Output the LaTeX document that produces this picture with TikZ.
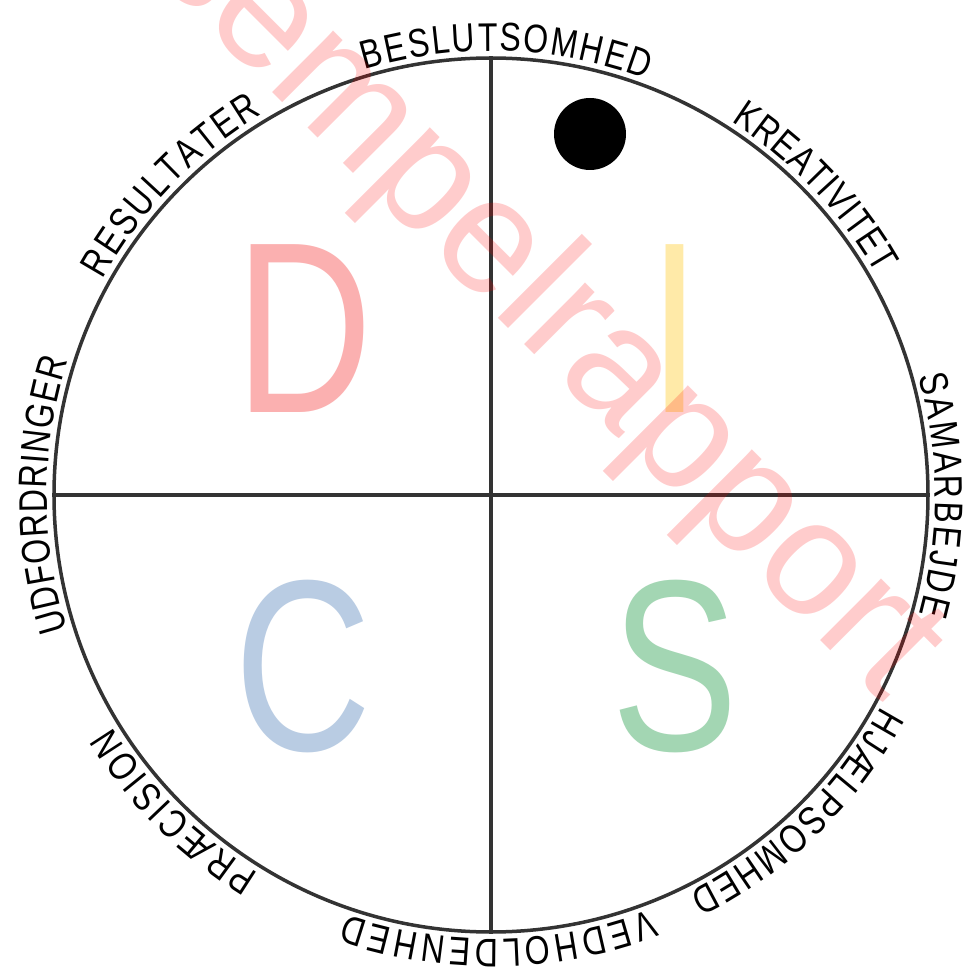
\documentclass[tikz,border=0pt]{standalone}
\usepackage{fontspec}
\setmainfont{Liberation Sans}
\newfontfamily\narrowfont{Liberation Sans}[FakeStretch=0.8]
\newfontfamily\widefont{Liberation Sans}[FakeStretch=0.78]
\newcommand\lblfont{\narrowfont\fontsize{40}{44}\selectfont}
\usetikzlibrary{decorations.text}
\definecolor{ringgrey}{HTML}{333333}
\definecolor{dred}{HTML}{FBB0B0}
\definecolor{iyellow}{HTML}{FFEAA8}
\definecolor{sgreen}{HTML}{A3D6B3}
\definecolor{cblue}{HTML}{B9CCE3}
\begin{document}
\begin{tikzpicture}[x=1pt, y=1pt,
  ring/.style={draw=ringgrey, line width=3.5pt},
  quad/.style={font=\widefont\fontsize{244}{244}\selectfont, inner sep=0pt, anchor=base},
  stamp/.style={font=\fontsize{164}{164}\selectfont, text=red, text opacity=0.2, inner sep=0pt}
]
\useasboundingbox (-491,-479) rectangle (477,495);
\fill[white] (-491,-479) rectangle (477,495);
\node[ring, circle, minimum size=874, inner sep=0pt] (wheel) at (0,0) {};
\draw[ring] (wheel.north) -- (wheel.south);
\draw[ring] (wheel.west) -- (wheel.east);
\node[quad, text=dred] (dlet) at (-187,82) {D};
\node[quad, text=iyellow] (ilet) at (184,82) {I};
\node[quad, text=cblue] (clet) at (-188,-255) {C};
\node[quad, text=sgreen] (slet) at (184,-255) {S};
\node[circle, fill=black, minimum size=72, inner sep=0pt] (marker) at (99,361) {};
\foreach \a/\w/\t in {88/18.5/BESLUTSOMHED, 43.5/13.7/KREATIVITET, 0/15.5/SAMARBEJDE,
    -46/17.5/HJÆLPSOMHED, -89/20/VEDHOLDENHED, -135/13.5/PRÆCISION,
    -180/17.6/UDFORDRINGER, 136/15/RESULTATER} {
  \path[decorate, decoration={text along path, text align=fit to path,
      text/.expanded={|\noexpand\lblfont|\t}}]
    (\a+\w:444) arc[start angle=\a+\w, end angle=\a-\w, radius=444];
}
\node[stamp, rotate=-45, anchor=base west] (watermark) at (-484,668) {Eksempelrapport};
\end{tikzpicture}
\end{document}
